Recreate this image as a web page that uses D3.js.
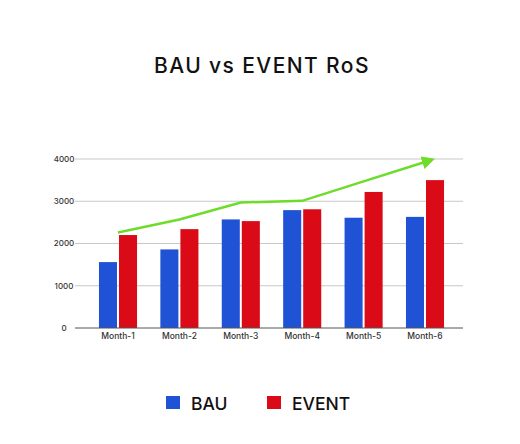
<!DOCTYPE html>
<html>
<head>
<meta charset="utf-8">
<script src="https://cdn.jsdelivr.net/npm/d3@7"></script>
<style>
  body { margin: 0; background: #fff; }
  svg { display: block; }
  text { font-family: Inter, "Liberation Sans", Arial, sans-serif; font-weight: 500; }
</style>
</head>
<body>
<svg id="chart"></svg>
<script>
// data
const months = ["Month-1", "Month-2", "Month-3", "Month-4", "Month-5", "Month-6"];
const series = ["BAU", "EVENT"];
const bau = [1560, 1860, 2570, 2790, 2610, 2630];
const event = [2200, 2340, 2530, 2810, 3220, 3500];
const trend = [2260, 2570, 2970, 3010, 3470, 3930];
const yTicks = [0, 1000, 2000, 3000, 4000];

const width = 520, height = 444;
const colors = { BAU: "#1f52d4", EVENT: "#da0a16" };

const svg = d3.select("#chart").attr("width", width).attr("height", height);

const plotLeft = 75, plotRight = 463;
const x = d3.scaleBand().domain(months).range([87.3, 455.7]).paddingInner(0.38).paddingOuter(0.19);
const xSub = d3.scaleBand().domain(series).range([0, x.bandwidth()]).paddingInner(0.1);
const y = d3.scaleLinear().domain([0, 4000]).range([328, 159]);

// title
svg.append("text")
  .attr("x", 262).attr("y", 73)
  .attr("text-anchor", "middle")
  .style("font-size", "21px")
  .style("letter-spacing", "1.4px")
  .attr("fill", "#111")
  .text("BAU vs EVENT RoS");

// gridlines
svg.append("g").selectAll("line").data(yTicks.filter(d => d > 0)).join("line")
  .attr("x1", plotLeft).attr("x2", plotRight)
  .attr("y1", d => y(d)).attr("y2", d => y(d))
  .attr("stroke", "#c8c8c8").attr("stroke-width", 1);

// y labels
svg.append("g").selectAll("text").data(yTicks).join("text")
  .attr("x", 64).attr("y", d => y(d))
  .attr("dy", "0.35em")
  .attr("text-anchor", "middle")
  .style("font-size", "8px")
  .attr("fill", "#333")
  .text(d => d);

// bars
const groups = svg.append("g").selectAll("g").data(months).join("g")
  .attr("transform", d => `translate(${x(d)},0)`);
groups.selectAll("rect")
  .data((d, i) => [{ k: "BAU", v: bau[i] }, { k: "EVENT", v: event[i] }])
  .join("rect")
  .attr("x", d => xSub(d.k))
  .attr("width", xSub.bandwidth())
  .attr("y", d => y(d.v))
  .attr("height", d => y(0) - y(d.v))
  .attr("fill", d => colors[d.k]);

// baseline
svg.append("line")
  .attr("x1", plotLeft).attr("x2", plotRight)
  .attr("y1", y(0)).attr("y2", y(0))
  .attr("stroke", "#555").attr("stroke-width", 1);

// x labels
const xAxis = d3.axisBottom(x).tickSize(0).tickPadding(5);
svg.append("g")
  .attr("transform", `translate(0,${y(0)})`)
  .call(xAxis)
  .call(g => g.select(".domain").remove())
  .call(g => g.selectAll("text")
    .style("font-family", "Inter, 'Liberation Sans', Arial, sans-serif")
    .style("font-weight", 500)
    .style("font-size", "8.5px")
    .attr("fill", "#333"));

// trend arrow
svg.append("defs").append("marker")
  .attr("id", "arrow")
  .attr("viewBox", "0 0 10 10")
  .attr("refX", 2).attr("refY", 5)
  .attr("markerWidth", 5.2).attr("markerHeight", 5.2)
  .attr("markerUnits", "strokeWidth")
  .attr("orient", "auto")
  .append("path")
  .attr("d", "M0,0 L10,5 L0,10 Z")
  .attr("fill", "#6ddc2a");

const line = d3.line()
  .x((d, i) => x(months[i]) + x.bandwidth() / 2)
  .y(d => y(d));
svg.append("path")
  .datum(trend)
  .attr("d", line)
  .attr("fill", "none")
  .attr("stroke", "#6ddc2a")
  .attr("stroke-width", 2.5)
  .attr("marker-end", "url(#arrow)");

// legend
const legend = svg.append("g");
const legendX = [166, 267];
series.forEach((s, i) => {
  legend.append("rect")
    .attr("x", legendX[i]).attr("y", 396)
    .attr("width", 14).attr("height", 13)
    .attr("fill", colors[s]);
  legend.append("text")
    .attr("x", legendX[i] + 25).attr("y", 409.5)
    .style("font-size", "17.5px")
    .attr("fill", "#111")
    .text(s);
});
</script>
</body>
</html>
